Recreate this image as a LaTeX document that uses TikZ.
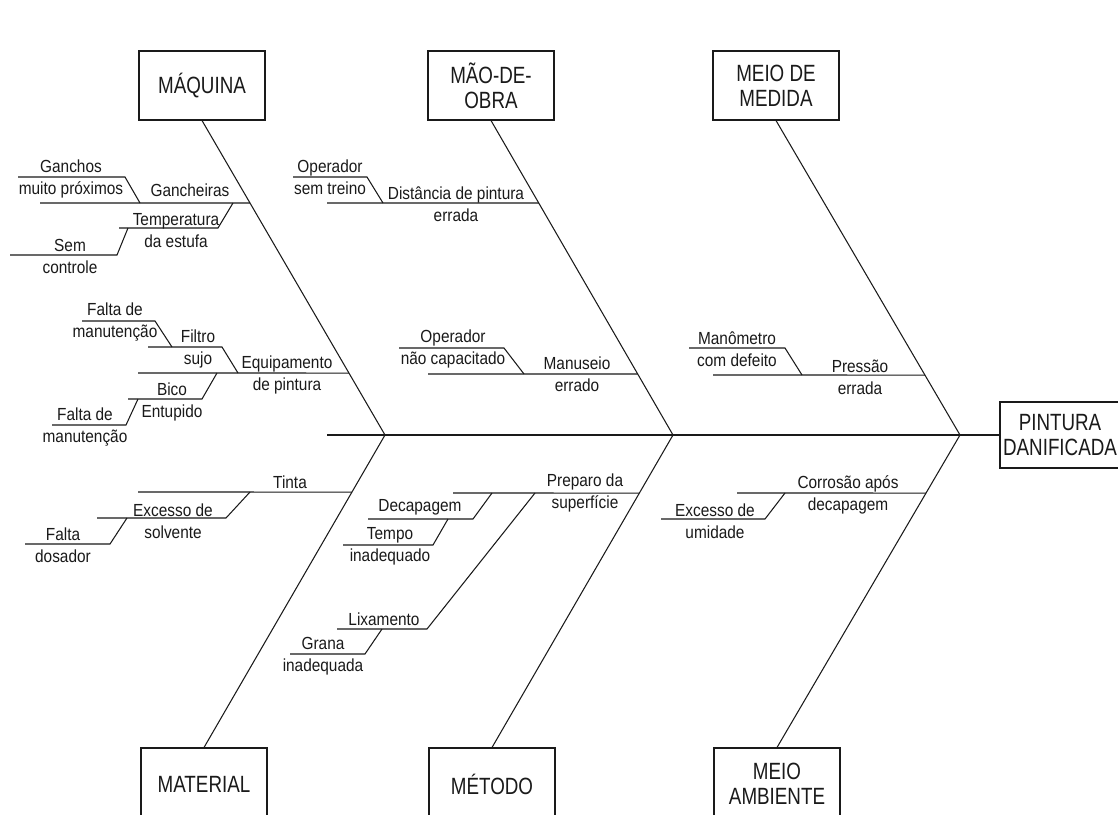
\documentclass[tikz,border=0pt]{standalone}
\usepackage{fontspec}
\setmainfont{Liberation Sans}
\newfontfamily\lblfamily[FakeStretch=0.88]{Liberation Sans}
\newfontfamily\boxfamily[FakeStretch=0.8]{Liberation Sans}
\definecolor{ink}{HTML}{1A1A1A}
\tikzset{
  bone/.style={draw=ink, line width=1.05pt},
  catbox/.style={draw=ink, line width=1.05pt, minimum width=126pt, minimum height=69pt,
    align=center, inner sep=0pt, text=ink, font=\boxfamily\fontsize{23.5}{25}\selectfont},
  lbl/.style={align=center, inner sep=0pt, text=ink, font=\lblfamily\fontsize{17.5}{22}\selectfont},
}
\begin{document}
\begin{tikzpicture}[x=1pt,y=-1pt]
\clip (0,0) rectangle (1118,814);
\fill[white] (0,0) rectangle (1118,814);

% category boxes
\node[catbox] (maq) at (202,85.5) {MÁQUINA};
\node[catbox] (mao) at (491,85.5) {MÃO-DE-\\OBRA};
\node[catbox] (med) at (776,85.5) {MEIO DE\\MEDIDA};
\node[catbox, minimum height=72pt] (mat) at (204,784) {MATERIAL};
\node[catbox, minimum height=72pt] (met) at (492,784) {MÉTODO};
\node[catbox, minimum height=72pt] (amb) at (777,784) {MEIO\\AMBIENTE};
\node[catbox, minimum width=120pt, minimum height=66pt] (head) at (1060,435) {PINTURA\\DANIFICADA};

% spine and junctions
\coordinate (tail) at (327,435);
\coordinate (j1) at (385,435);
\coordinate (j2) at (673,435);
\coordinate (j3) at (960,435);
\draw[bone] (tail) -- (head.west);

% main bones
\draw[bone] (maq.south) -- (j1) -- (mat.north);
\draw[bone] (mao.south) -- (j2) -- (met.north);
\draw[bone] (med.south) -- (j3) -- (amb.north);

% attachment points on the bones
\coordinate (qa) at (intersection of maq.south--j1 and 0,203--1,203);
\coordinate (qb) at (intersection of maq.south--j1 and 0,373--1,373);
\coordinate (ma) at (intersection of j1--mat.north and 0,492--1,492);
\coordinate (oa) at (intersection of mao.south--j2 and 0,203--1,203);
\coordinate (ob) at (intersection of mao.south--j2 and 0,374--1,374);
\coordinate (ta) at (intersection of j2--met.north and 0,493--1,493);
\coordinate (ea) at (intersection of med.south--j3 and 0,375--1,375);
\coordinate (aa) at (intersection of j3--amb.north and 0,493--1,493);

% MAQUINA branches
\draw[bone] (40,203) -- (qa);
\draw[bone] (18,177) -- (125,177) -- (140,203);
\draw[bone] (233,203) -- (218,228) -- (119,228);
\draw[bone] (128,228) -- (117,255) -- (10,255);
\draw[bone] (138,373) -- (qb);
\draw[bone] (238,373) -- (222,347) -- (148,347);
\draw[bone] (172,347) -- (155,321) -- (82,321);
\draw[bone] (217,373) -- (202,399) -- (128,399);
\draw[bone] (138,399) -- (126,425) -- (52,425);

\node[lbl] (gan) at (190,190) {Gancheiras};
\node[lbl] (gmp) at (71,178.5) {Ganchos\\muito próximos};
\node[lbl] (tde) at (176,231) {Temperatura\\da estufa};
\node[lbl] (sc)  at (70,256) {Sem\\controle};
\node[lbl] (eqp) at (287,374.5) {Equipamento\\de pintura};
\node[lbl] (fs)  at (198,348.5) {Filtro\\sujo};
\node[lbl] (fm1) at (115,322.5) {Falta de\\manutenção};
\node[lbl] (be)  at (172,401.5) {Bico\\Entupido};
\node[lbl] (fm2) at (85,427) {Falta de\\manutenção};

% MATERIAL branches
\draw[bone] (138,492) -- (ma);
\draw[bone] (250,492) -- (226,518) -- (97,518);
\draw[bone] (127,518) -- (110,544) -- (25,544);

\node[lbl] (tin) at (290,482) {Tinta};
\node[lbl] (exs) at (173,521) {Excesso de\\solvente};
\node[lbl] (fd)  at (63,545) {Falta\\dosador};

% MAO-DE-OBRA branches
\draw[bone] (327,203) -- (oa);
\draw[bone] (293,177) -- (367,177) -- (383,203);
\draw[bone] (428,374) -- (ob);
\draw[bone] (399,348) -- (504,348) -- (524,374);

\node[lbl] (dpe) at (456,204) {Distância de pintura\\errada};
\node[lbl] (ost) at (330,177) {Operador\\sem treino};
\node[lbl] (mer) at (577,374) {Manuseio\\errado};
\node[lbl] (onc) at (453,349) {Operador\\não capacitado};

% METODO branches
\draw[bone] (453,493) -- (ta);
\draw[bone] (492,493) -- (473,519) -- (368,519);
\draw[bone] (448,519) -- (433,545) -- (343,545);
\draw[bone] (535,493) -- (427,629) -- (337,629);
\draw[bone] (382,629) -- (365,654) -- (290,654);

\node[lbl] (pds) at (585,493) {Preparo da\\superfície};
\node[lbl] (dec) at (420,507) {Decapagem};
\node[lbl] (tmp) at (390,546) {Tempo\\inadequado};
\node[lbl] (lix) at (384,619) {Lixamento};
\node[lbl] (gri) at (323,656) {Grana\\inadequada};

% MEIO DE MEDIDA branches
\draw[bone] (713,375) -- (ea);
\draw[bone] (689,348) -- (785,348) -- (802,375);

\node[lbl] (per) at (860,377.5) {Pressão\\errada};
\node[lbl] (mcd) at (737,349) {Manômetro\\com defeito};

% MEIO AMBIENTE branches
\draw[bone] (737,493) -- (aa);
\draw[bone] (785,493) -- (765,519) -- (661,519);

\node[lbl] (cad) at (848,495) {Corrosão após\\decapagem};
\node[lbl] (exu) at (715,521.5) {Excesso de\\umidade};
\end{tikzpicture}
\end{document}
